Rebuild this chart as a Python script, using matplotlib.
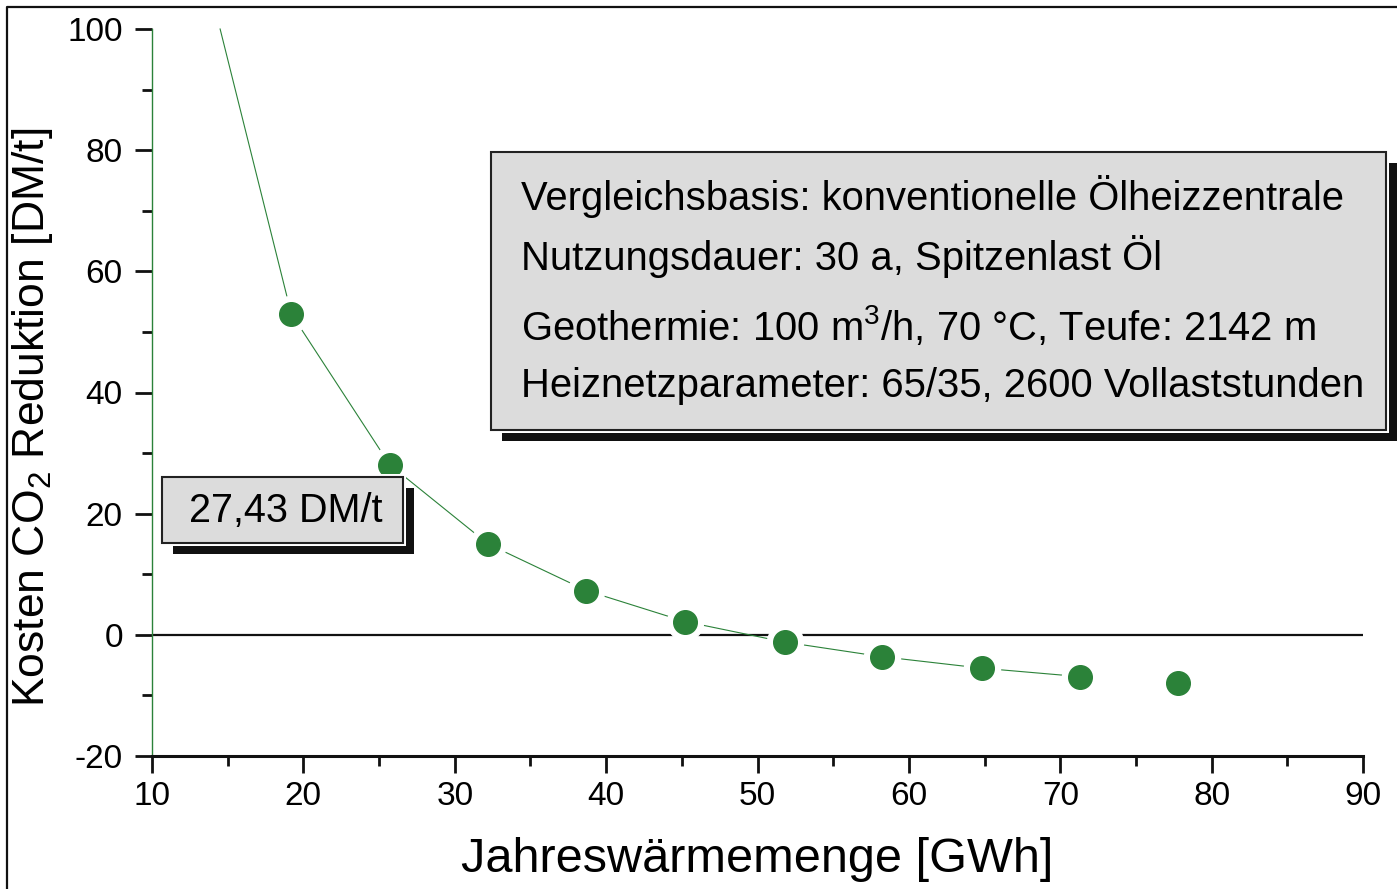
import matplotlib
matplotlib.use("Agg")
import matplotlib.pyplot as plt
from matplotlib.patches import Rectangle
from matplotlib.lines import Line2D
from matplotlib.ticker import MultipleLocator

plt.rcParams['font.family'] = ['Liberation Sans', 'DejaVu Sans']
plt.rcParams['mathtext.fontset'] = 'custom'
plt.rcParams['mathtext.rm'] = 'Liberation Sans'
plt.rcParams['axes.unicode_minus'] = False

# ---- data ----
waerme = [19.2, 25.7, 32.2, 38.7, 45.2, 51.8, 58.2, 64.8, 71.3, 77.8]
kosten = [53.0, 28.1, 15.0, 7.3, 2.2, -1.2, -3.6, -5.5, -6.9, -7.9]

# fitted curve (drawn as in the original, starting at the top of the axis)
kurve_x = [14.5, 19.2, 25.7, 32.2, 38.7, 45.2, 51.8, 58.2, 64.8, 71.3]
kurve_y = [100.0, 53.0, 28.1, 15.0, 7.3, 2.2, -1.2, -3.6, -5.5, -6.9]

x_ticks = [10, 20, 30, 40, 50, 60, 70, 80, 90]
y_ticks = [-20, 0, 20, 40, 60, 80, 100]

info_lines = [
    "Vergleichsbasis: konventionelle Ölheizzentrale",
    "Nutzungsdauer: 30 a, Spitzenlast Öl",
    "Geothermie: 100 m$^\\mathregular{3}$/h, 70 °C, Teufe: 2142 m",
    "Heiznetzparameter: 65/35, 2600 Vollaststunden",
]
marke_text = "27,43 DM/t"

GREEN = '#2b8239'
W, H = 1397, 889

fig = plt.figure(figsize=(W / 100, H / 100), dpi=100)
ax = fig.add_axes([152 / W, 1 - 756 / H, (1363 - 152) / W, (756 - 29) / H])

def px(x, y):
    # pixel position (from top-left) -> figure fraction
    return x / W, 1 - y / H

# curve, halo and points
ax.plot(kurve_x, kurve_y, color=GREEN, lw=0.8, zorder=2, clip_on=False)
ax.plot(waerme, kosten, 'o', ms=26, color='white', zorder=3, clip_on=False)
ax.plot(waerme, kosten, 'o', ms=17, color=GREEN, mec=GREEN, zorder=4, clip_on=False)
ax.axhline(0, color='#111111', lw=1.6, zorder=1)

ax.set_xlim(10, 90)
ax.set_ylim(-20, 100)
ax.set_xticks(x_ticks)
ax.set_yticks(y_ticks)
ax.xaxis.set_minor_locator(MultipleLocator(5))
ax.yaxis.set_minor_locator(MultipleLocator(10))
ax.tick_params(which='major', length=12, width=2, color='#111111', labelsize=24, pad=6)
ax.tick_params(which='minor', length=7, width=2, color='#111111')
ax.tick_params(axis='y', pad=9)

for s in ['top', 'right']:
    ax.spines[s].set_visible(False)
ax.spines['left'].set_color(GREEN)
ax.spines['left'].set_linewidth(1.0)
ax.spines['bottom'].set_color('#111111')
ax.spines['bottom'].set_linewidth(2.2)

fig.text(*px(757, 860), "Jahreswärmemenge [GWh]", fontsize=35, ha='center', va='center')
fig.text(*px(33, 417), "Kosten CO$_\\mathregular{2}$ Reduktion [DM/t]", fontsize=32,
         rotation=90, ha='center', va='center')

# figure frame (left and top)
fig.add_artist(Line2D([7 / W, 7 / W, 1], [0, 1 - 7 / H, 1 - 7 / H], color='#111111', lw=1.6))

def shadow_box(x0, y0, x1, y1, off):
    # black shadow, white gap, grey box; coords in pixels from top-left
    fx0, fy1 = px(x0, y0)
    fx1, fy0 = px(x1, y1)
    sx0, sy1 = px(x0 + off, y0 + off)
    sx1, sy0 = px(x1 + off, y1 + off)
    fig.add_artist(Rectangle((sx0, sy0), sx1 - sx0, sy1 - sy0, transform=fig.transFigure,
                             facecolor='#111111', edgecolor='none', zorder=5))
    gx0, gy1 = px(x0 - 3, y0 - 3)
    gx1, gy0 = px(x1 + 3, y1 + 3)
    fig.add_artist(Rectangle((gx0, gy0), gx1 - gx0, gy1 - gy0, transform=fig.transFigure,
                             facecolor='white', edgecolor='none', zorder=6))
    fig.add_artist(Rectangle((fx0, fy0), fx1 - fx0, fy1 - fy0, transform=fig.transFigure,
                             facecolor='#dcdcdc', edgecolor='#222222', lw=1.5, zorder=7))

shadow_box(491, 152, 1386, 430, 11)
shadow_box(162, 477, 403, 543, 11)

y_rows = [197, 256, 326, 386]
for yy, t in zip(y_rows, info_lines):
    fig.text(*px(521, yy), t, fontsize=28.8, ha='left', va='center', zorder=8)
fig.text(*px(286, 511), marke_text, fontsize=28.5, ha='center', va='center', zorder=8)

fig.savefig("out.png", dpi=100, facecolor='white')
